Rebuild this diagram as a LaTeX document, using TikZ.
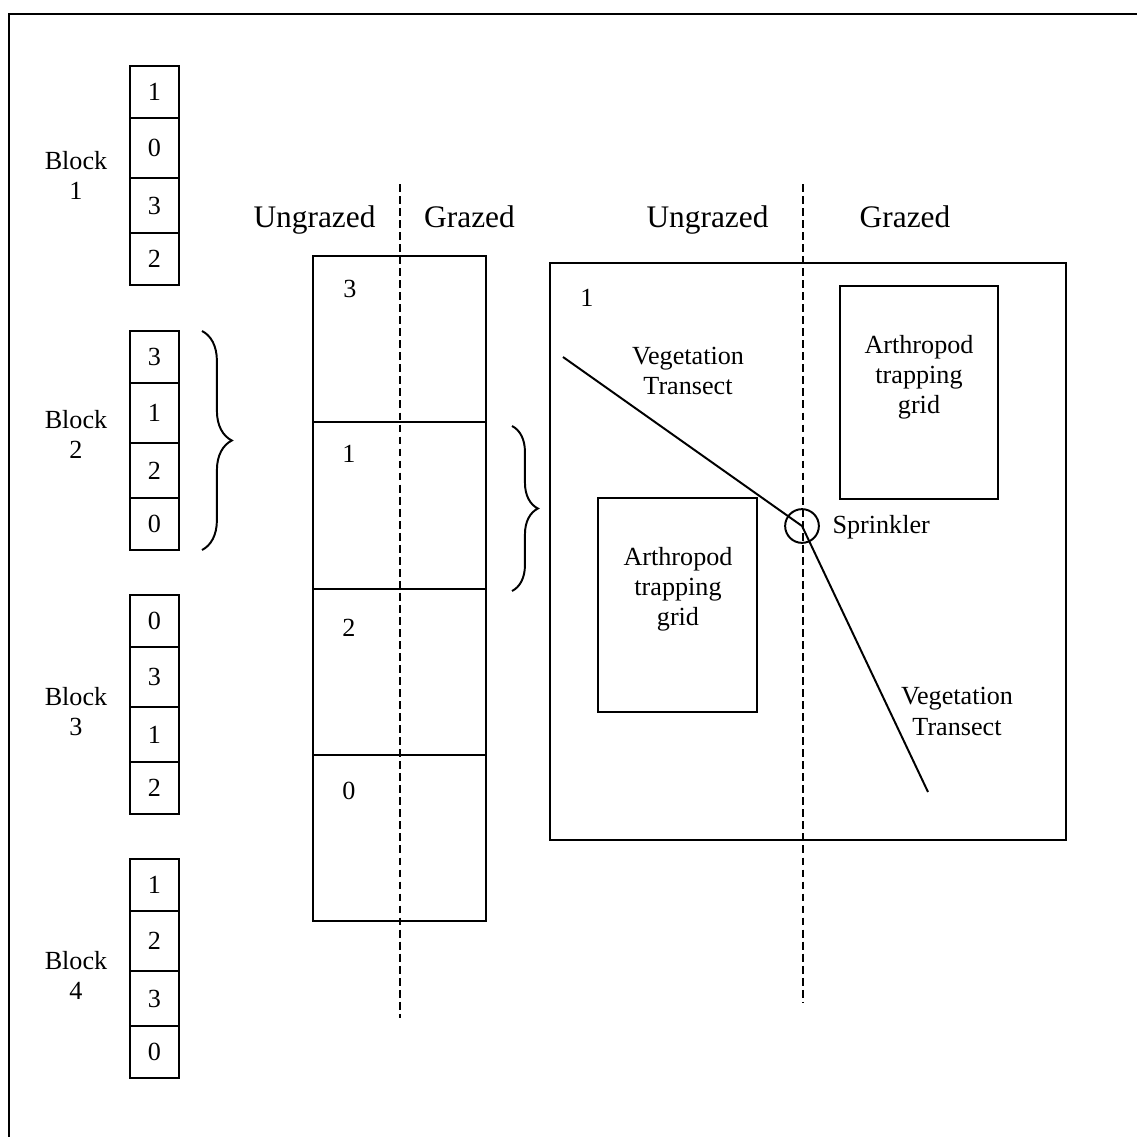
\documentclass[tikz,border=0pt]{standalone}
\usepackage{fontspec}
\setmainfont{Liberation Serif}
\usetikzlibrary{positioning,decorations.pathreplacing}
\tikzset{
  ln/.style={line width=0.75pt},
  cell/.style={draw, ln, outer sep=0pt, inner sep=0pt, minimum width=18.7pt,
               font=\fontsize{10}{11.6}\selectfont},
  cellsm/.style={cell, minimum height=19.8pt},
  cellbig/.style={cell, minimum height=22.9pt},
  cellmd/.style={cell, minimum height=21.3pt},
  plotrow/.style={draw, ln, outer sep=0pt, minimum width=65.9pt, minimum height=63.6pt},
  txt/.style={font=\fontsize{10}{11.6}\selectfont, align=center, inner sep=0pt},
  hdr/.style={font=\fontsize{12}{14}\selectfont, inner sep=0pt, anchor=base},
  box/.style={draw, ln, outer sep=0pt},
  div/.style={ln, dash pattern=on 3pt off 1.6pt},
  brc/.style={ln, decorate, decoration={brace, amplitude=#1}},
}
\begin{document}
\begin{tikzpicture}[x=0.01344cm, y=-0.01344cm]
  \useasboundingbox (0,0) rectangle (1137,1137);
  \coordinate (fbl) at (9,1137);
  \coordinate (ftl) at (9,14);
  \coordinate (ftr) at (1137,14);
  \draw[ln] (fbl) -- (ftl) -- (ftr);

  \node[cellsm, anchor=north] (b1a) at (154.5,66) {1};
  \node[cellbig, below=0pt of b1a] (b1b) {0};
  \node[cellmd, below=0pt of b1b] (b1c) {3};
  \node[cellsm, below=0pt of b1c] (b1d) {2};
  \node[txt] (blk1) at (76,175.3) {Block\\1};

  \node[cellsm, anchor=north] (b2a) at (154.5,331) {3};
  \node[cellbig, below=0pt of b2a] (b2b) {1};
  \node[cellmd, below=0pt of b2b] (b2c) {2};
  \node[cellsm, below=0pt of b2c] (b2d) {0};
  \node[txt] (blk2) at (76,434.2) {Block\\2};

  \node[cellsm, anchor=north] (b3a) at (154.5,595) {0};
  \node[cellbig, below=0pt of b3a] (b3b) {3};
  \node[cellmd, below=0pt of b3b] (b3c) {1};
  \node[cellsm, below=0pt of b3c] (b3d) {2};
  \node[txt] (blk3) at (76,711.4) {Block\\3};

  \node[cellsm, anchor=north] (b4a) at (154.5,859) {1};
  \node[cellbig, below=0pt of b4a] (b4b) {2};
  \node[cellmd, below=0pt of b4b] (b4c) {3};
  \node[cellsm, below=0pt of b4c] (b4d) {0};
  \node[txt] (blk4) at (76,975.2) {Block\\4};

  \coordinate (bl1) at (202,331);
  \coordinate (bl2) at (202,550);
  \draw[brc=11.4pt] (bl1) -- (bl2);

  \node[plotrow, anchor=north] (r3) at (399.5,256) {};
  \node[plotrow, below=0pt of r3] (r1) {};
  \node[plotrow, below=0pt of r1] (r2) {};
  \node[plotrow, below=0pt of r2] (r0) {};
  \node[txt, anchor=base] (n3) at (350,297) {3};
  \node[txt, anchor=base] (n1) at (349,462) {1};
  \node[txt, anchor=base] (n2) at (349,636) {2};
  \node[txt, anchor=base] (n0) at (349,799) {0};

  \coordinate (d1t) at (400,184);
  \coordinate (d1b) at (400,1018);
  \draw[div] (d1t) -- (d1b);
  \node[hdr] (ug1) at (314.5,227) {Ungrazed};
  \node[hdr] (gz1) at (469.5,227) {Grazed};

  \coordinate (br1) at (512,426);
  \coordinate (br2) at (512,591);
  \draw[brc=9.9pt] (br1) -- (br2);

  \node[box, minimum width=197.4pt, minimum height=220.6pt] (plot) at (808,551.5) {};
  \node[txt, anchor=base] (p1) at (587,306) {1};
  \node[box, minimum width=60.6pt, minimum height=81.5pt] (gridU) at (677.5,605) {};
  \node[txt] (gridUt) at (678,589.4) {Arthropod\\trapping\\grid};
  \node[box, minimum width=60.2pt, minimum height=81.2pt] (gridG) at (919,392.5) {};
  \node[txt] (gridGt) at (919,377.4) {Arthropod\\trapping\\grid};

  \coordinate (d2t) at (803,184);
  \coordinate (d2b) at (803,1002);
  \draw[div] (d2t) -- (d2b);
  \node[hdr] (ug2) at (707.5,227) {Ungrazed};
  \node[hdr] (gz2) at (905,227) {Grazed};

  \node[draw, ln, circle, minimum size=12.9pt, inner sep=0pt] (spr) at (802,526) {};
  \node[txt, anchor=base west] (sprt) at (832,533) {Sprinkler};
  \coordinate (vtA) at (563,357);
  \coordinate (vtB) at (928,792);
  \draw[ln] (vtA) -- (spr.center) -- (vtB);
  \node[txt] (vt1) at (688,371.3) {Vegetation\\Transect};
  \node[txt] (vt2) at (957,711.3) {Vegetation\\Transect};
\end{tikzpicture}
\end{document}
